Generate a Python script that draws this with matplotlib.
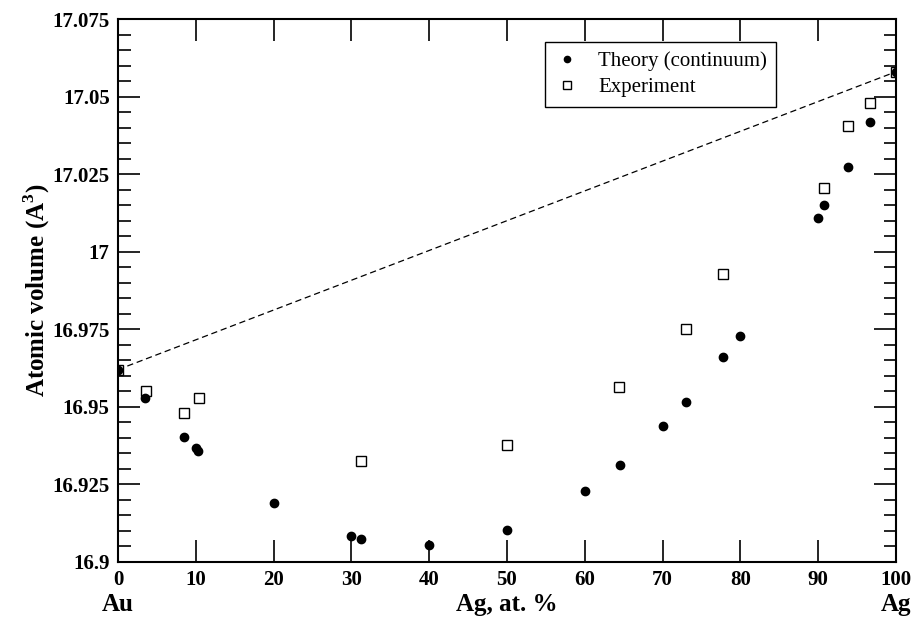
import numpy as np
import matplotlib.pyplot as plt
from matplotlib.ticker import MultipleLocator, FuncFormatter

plt.rcParams['font.family'] = ['Liberation Serif', 'DejaVu Serif']
plt.rcParams['mathtext.fontset'] = 'custom'
plt.rcParams['mathtext.rm'] = 'Liberation Serif:bold'
plt.rcParams['mathtext.bf'] = 'Liberation Serif:bold'

# Theory (continuum) results
theory_x = [0, 3.5, 8.5, 10.0, 10.3, 20, 30, 31.2, 40, 50, 60, 64.5, 70, 73,
            77.8, 80, 90, 90.8, 93.8, 96.7, 100]
theory_v = [16.962, 16.9528, 16.9402, 16.9366, 16.9359, 16.9189, 16.9084,
            16.9075, 16.9055, 16.9103, 16.923, 16.9313, 16.9439, 16.9517,
            16.966, 16.9729, 17.011, 17.0151, 17.0274, 17.0417, 17.058]

# Experimental data
exp_x = [0, 3.6, 8.5, 10.4, 31.3, 50, 64.4, 73, 77.8, 90.8, 93.9, 96.7, 100]
exp_v = [16.962, 16.9552, 16.9479, 16.9528, 16.9327, 16.9376, 16.9565,
         16.9752, 16.9928, 17.0204, 17.0405, 17.048, 17.058]

# Vegard's law between the pure elements
vegard_x = [0, 100]
vegard_v = [16.962, 17.058]

fig = plt.figure(figsize=(9.16, 6.19), dpi=100)
ax = fig.add_axes([0.1288, 0.0921, 0.8493, 0.8772])

ax.plot(vegard_x, vegard_v, ls=(0, (5, 3)), color='black', lw=0.9, zorder=1)
ax.plot(exp_x, exp_v, 's', ms=7, mfc='white', mec='black', mew=1.0,
        label='Experiment', zorder=2)
ax.plot(theory_x, theory_v, 'o', ms=6, color='black', mec='black',
        label='Theory (continuum)', zorder=3)

ax.set_xlim(0, 100)
ax.set_ylim(16.9, 17.075)
ax.xaxis.set_major_locator(MultipleLocator(10))
ax.yaxis.set_major_locator(MultipleLocator(0.025))
ax.yaxis.set_minor_locator(MultipleLocator(0.005))
ax.yaxis.set_major_formatter(FuncFormatter(lambda v, p: f'{v:.3f}'.rstrip('0').rstrip('.')))

ax.tick_params(which='both', direction='in', top=True, right=True,
               labelsize=15, width=1.2, pad=6)
ax.tick_params(which='major', length=16)
ax.tick_params(which='minor', length=9)
for lab in ax.get_xticklabels() + ax.get_yticklabels():
    lab.set_fontweight('bold')
for sp in ax.spines.values():
    sp.set_linewidth(1.5)

ax.set_xlabel('Ag, at. %', fontsize=18, fontweight='bold', labelpad=2)
ax.set_ylabel(r'Atomic volume (A$^{3}$)', fontsize=18, fontweight='bold',
              labelpad=0)
ax.text(0, -0.058, 'Au', transform=ax.get_xaxis_transform(), ha='center',
        va='top', fontsize=18, fontweight='bold')
ax.text(100, -0.058, 'Ag', transform=ax.get_xaxis_transform(), ha='center',
        va='top', fontsize=18, fontweight='bold')

handles, labels = ax.get_legend_handles_labels()
leg = ax.legend(handles[::-1], labels[::-1], loc='upper left',
                bbox_to_anchor=(0.549, 0.957), borderaxespad=0, fontsize=15,
                fancybox=False, edgecolor='black', framealpha=1,
                handlelength=1.2, handletextpad=0.9, borderpad=0.45,
                labelspacing=0.3, markerscale=0.75)
leg.get_frame().set_linewidth(1.0)

fig.savefig('out.png', dpi=100)
